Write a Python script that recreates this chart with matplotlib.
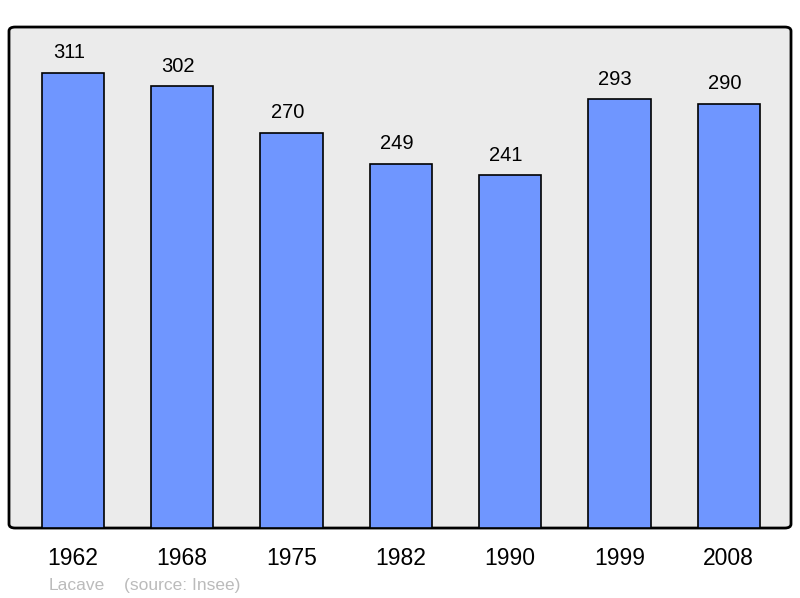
import matplotlib.pyplot as plt
from matplotlib.patches import FancyBboxPatch

plt.rcParams['font.family'] = ['Liberation Sans', 'DejaVu Sans']

years = ['1962', '1968', '1975', '1982', '1990', '1999', '2008']
population = [311, 302, 270, 249, 241, 293, 290]

fig = plt.figure(figsize=(8, 5.98), dpi=100)
ax = fig.add_axes([0.01125, 0.117, 0.9775, 0.8378])
ax.set_facecolor('none')

# rounded grey background frame
bg = FancyBboxPatch((0, 0), 1, 1, boxstyle='round,pad=0,rounding_size=0.008',
                    transform=ax.transAxes, facecolor='#ebebeb', edgecolor='black',
                    linewidth=2, zorder=0, clip_on=False)
ax.add_patch(bg)

x = range(len(years))
bars = ax.bar(x, population, width=0.57, color='#6f96ff', edgecolor='black',
              linewidth=1.2, zorder=2)
for xi, v in zip(x, population):
    ax.annotate(str(v), (xi, v), xytext=(-3, 14.5), textcoords='offset points',
                ha='center', va='center', fontsize=14.5, color='black')

ax.set_xlim(-0.585, 6.57)
ax.set_ylim(0, 342.4)
ax.set_xticks(list(x))
ax.set_xticklabels(years, fontsize=16.5)
ax.tick_params(axis='x', length=0, pad=13.5)
ax.set_yticks([])
for s in ax.spines.values():
    s.set_visible(False)

fig.text(49 / 800, 1 - 590 / 598, 'Lacave', fontsize=12.5, color='#bbbbbb',
         ha='left', va='baseline')
fig.text(124 / 800, 1 - 590 / 598, '(source: Insee)', fontsize=12.5, color='#bbbbbb',
         ha='left', va='baseline')

fig.savefig('out.png', dpi=100)
